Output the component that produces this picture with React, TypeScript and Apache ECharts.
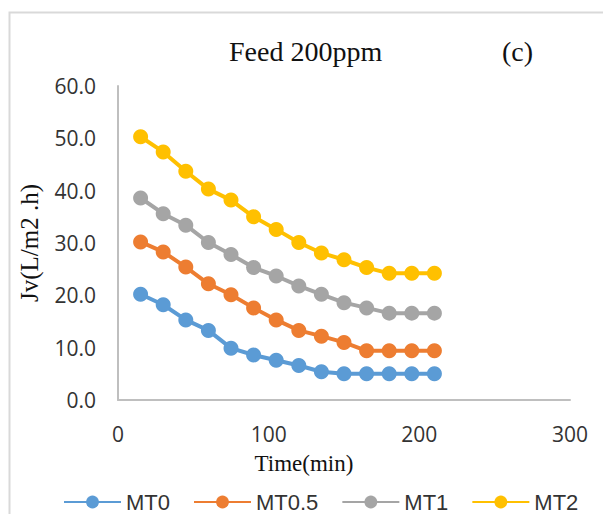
import React, { useEffect, useRef } from "react";
import * as echarts from "echarts";

const timeMin = [15, 30, 45, 60, 75, 90, 105, 120, 135, 150, 165, 180, 195, 210];
const seriesNames = ["MT0", "MT0.5", "MT1", "MT2"];
const mt0 = [20.2, 18.2, 15.3, 13.3, 9.9, 8.6, 7.6, 6.6, 5.4, 5.0, 5.0, 5.0, 5.0, 5.0];
const mt05 = [30.2, 28.3, 25.4, 22.2, 20.1, 17.6, 15.3, 13.3, 12.2, 11.0, 9.4, 9.4, 9.4, 9.4];
const mt1 = [38.6, 35.6, 33.4, 30.1, 27.8, 25.3, 23.7, 21.8, 20.2, 18.6, 17.6, 16.6, 16.6, 16.6];
const mt2 = [50.3, 47.4, 43.7, 40.3, 38.2, 35.0, 32.6, 30.1, 28.1, 26.8, 25.3, 24.2, 24.2, 24.2];
const colors = ["#5B9BD5", "#ED7D31", "#A5A5A5", "#FFC000"];
const xTicks = [0, 100, 200, 300];
const yTicks = [0, 10, 20, 30, 40, 50, 60];

export default function App() {
  const ref = useRef<HTMLDivElement>(null);
  useEffect(() => {
    if (!ref.current) return;
    const chart = echarts.init(ref.current, null, { renderer: "svg" });
    const values = [mt0, mt05, mt1, mt2];
    chart.setOption({
      animation: false,
      backgroundColor: "#ffffff",
      title: {
        text: "Feed 200ppm",
        left: 229,
        top: 37,
        padding: 0,
        textStyle: {
          fontFamily: "Liberation Serif",
          fontSize: 28,
          fontWeight: "normal",
          color: "#111",
        },
      },
      graphic: [
        {
          type: "rect",
          shape: { x: 9.5, y: 12.5, width: 700, height: 600 },
          style: { fill: "none", stroke: "#d9d9d9", lineWidth: 2 },
          silent: true,
        },
        {
          type: "text",
          x: 502,
          y: 37,
          style: {
            text: "(c)",
            fontFamily: "Liberation Serif",
            fontSize: 28,
            fill: "#111",
          },
        },
      ],
      legend: {
        data: seriesNames,
        left: 63,
        top: 491,
        padding: 0,
        itemWidth: 57,
        itemHeight: 16,
        itemGap: 23,
        textStyle: {
          fontFamily: "Liberation Sans",
          fontSize: 22,
          lineHeight: 20,
          color: "#333",
        },
      },
      grid: { left: 118, right: 33, top: 86, bottom: 114, containLabel: false },
      xAxis: {
        type: "value",
        min: xTicks[0],
        max: xTicks[xTicks.length - 1],
        interval: 100,
        name: "Time(min)",
        nameLocation: "middle",
        nameGap: 52,
        nameTextStyle: {
          fontFamily: "Liberation Serif",
          fontSize: 23,
          color: "#111",
          padding: [0, 80, 0, 0],
        },
        axisLine: { show: true, lineStyle: { color: "#BFBFBF", width: 2 } },
        axisTick: { show: false },
        splitLine: { show: false },
        axisLabel: {
          margin: 23,
          fontFamily: "Open Sans",
          fontSize: 21,
          color: "#333",
        },
      },
      yAxis: {
        type: "value",
        min: yTicks[0],
        max: yTicks[yTicks.length - 1],
        interval: 10,
        name: "Jv(L/m2 .h)",
        nameLocation: "middle",
        nameGap: 76,
        nameTextStyle: {
          fontFamily: "Liberation Serif",
          fontSize: 25,
          color: "#111",
        },
        axisLine: { show: true, lineStyle: { color: "#BFBFBF", width: 2 } },
        axisTick: { show: false },
        splitLine: { show: false },
        axisLabel: {
          margin: 22,
          fontFamily: "Open Sans",
          fontSize: 21,
          color: "#333",
          formatter: (v: number) => v.toFixed(1),
        },
      },
      series: seriesNames.map((name, i) => ({
        name,
        type: "line",
        data: timeMin.map((t, j) => [t, values[i][j]]),
        symbol: "circle",
        symbolSize: 15,
        lineStyle: { color: colors[i], width: 4 },
        itemStyle: { color: colors[i] },
        color: colors[i],
      })),
    });
    return () => chart.dispose();
  }, []);
  return (
    <div
      ref={ref}
      style={{ position: "fixed", left: 0, top: 0, width: 603, height: 514 }}
    />
  );
}
